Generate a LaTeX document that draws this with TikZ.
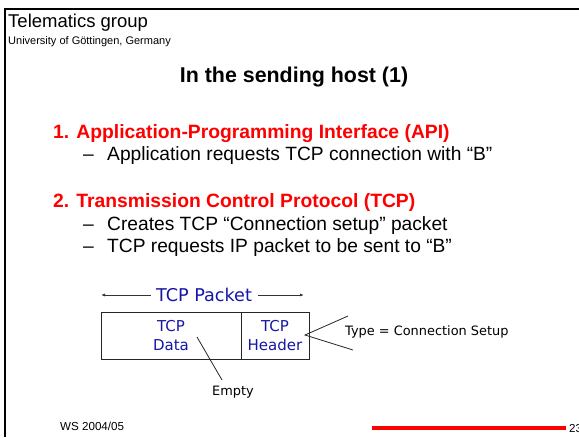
\documentclass[tikz,border=0pt]{standalone}
\usepackage{fontspec}
\setmainfont{Liberation Sans}
\newfontfamily\casualfont{DejaVu Sans}
\usetikzlibrary{arrows.meta}
\definecolor{slidered}{RGB}{255,0,0}
\definecolor{pktblue}{RGB}{22,22,165}
\tikzset{
  txt/.style={inner sep=0pt, anchor=base west},
  heading/.style={txt, text=slidered, font=\fontsize{19.3}{22}\selectfont\bfseries},
  bodyline/.style={txt, font=\fontsize{19.2}{22}\selectfont},
  pkt/.style={inner sep=0pt, align=center, text=pktblue, font=\casualfont\fontsize{15}{19}\selectfont},
  note/.style={inner sep=0pt, font=\casualfont\fontsize{12.9}{16}\selectfont},
  frameline/.style={line width=2pt, black},
  thinline/.style={line width=0.8pt, black!85},
  sizearrow/.style={line width=0.8pt, black!80, -{Latex[length=4pt,width=3pt]}}
}
\begin{document}
\begin{tikzpicture}[x=1pt, y=-1pt]
  \clip (0,0) rectangle (579,437);
  \fill[white] (0,0) rectangle (579,437);

  % slide frame
  \draw[frameline] (4,9) -- (579,9);
  \draw[frameline] (5,8) -- (5,437);

  % header
  \node[txt, font=\fontsize{18.5}{20}\selectfont] (group) at (8,27) {Telematics group};
  \node[txt, font=\fontsize{11}{13}\selectfont] (univ) at (8,44) {University of Göttingen, Germany};

  % title
  \node[inner sep=0pt, anchor=base, font=\fontsize{21.4}{24}\selectfont\bfseries] (title) at (294,82) {In the sending host (1)};

  % items
  \node[heading] (h1) at (53,138) {1. Application-Programming Interface (API)};
  \node[bodyline] (d1) at (83,160) {–};
  \node[bodyline] (b1) at (107,160) {Application requests TCP connection with “B”};
  \node[heading] (h2) at (53,207) {2. Transmission Control Protocol (TCP)};
  \node[bodyline] (d2) at (83,230) {–};
  \node[bodyline] (b2) at (107,230) {Creates TCP “Connection setup” packet};
  \node[bodyline] (d3) at (83,252) {–};
  \node[bodyline] (b3) at (107,252) {TCP requests IP packet to be sent to “B”};

  % packet size label with arrows
  \node[pkt, font=\casualfont\fontsize{17.6}{20}\selectfont] (pktlabel) at (204,295) {TCP Packet};
  \coordinate (pl) at (101,295);
  \coordinate (pr) at (304,295);
  \draw[sizearrow] (pktlabel.west) ++(-5,0) coordinate (plstart) -- (pl);
  \draw[sizearrow] (pktlabel.east) ++(6,0) coordinate (prstart) -- (pr);

  % packet boxes
  \node[draw, thinline, minimum width=140pt, minimum height=47pt, inner sep=0pt] (data) at (171,335.5) {};
  \node[draw, thinline, minimum width=68pt, minimum height=47pt, inner sep=0pt] (hdr) at (275,335.5) {};
  \node[pkt] (datatxt) at (171,336) {TCP\\Data};
  \node[pkt] (hdrtxt) at (275,336) {TCP\\Header};

  % annotations
  \node[note, anchor=west] (type) at (345,332) {Type = Connection Setup};
  \node[note] (empty) at (233,392) {Empty};
  \coordinate (hp) at (305,335);
  \coordinate (tup) at (348,316);
  \coordinate (tdn) at (353,350);
  \draw[thinline] (tup) -- (hp) -- (tdn);
  \coordinate (dp) at (197,337);
  \draw[thinline] (dp) -- (222,380) coordinate (ep);

  % footer
  \node[txt, font=\fontsize{11.6}{13}\selectfont] (term) at (60,430) {WS 2004/05};
  \draw[line width=4pt, slidered] (372,428) -- (566,428) coordinate (barend);
  \node[txt, font=\fontsize{11.6}{13}\selectfont] (page) at (569,432) {23};
\end{tikzpicture}
\end{document}
